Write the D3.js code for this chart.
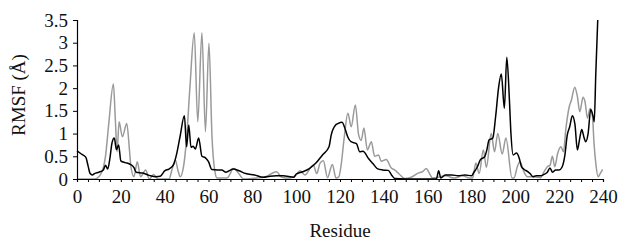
<!DOCTYPE html>
<html><head><meta charset="utf-8">
<script src="https://cdn.jsdelivr.net/npm/d3@7"></script>
<style>
html,body{margin:0;padding:0;background:#fff;}
svg text{font-family:"Liberation Serif","Times New Roman",serif;fill:#111;}
</style></head>
<body><svg id="c" width="618" height="240"></svg>
<script>
const yTicks = [0, 0.5, 1, 1.5, 2, 2.5, 3, 3.5];
const xTicks = [0, 20, 40, 60, 80, 100, 120, 140, 160, 180, 200, 220, 240];
const xLabel = "Residue";
const yLabel = "RMSF (Å)";

const blackResidue = [0,2,4,5,6,7,8,10,12,13,14,15,16,17,18,19,20,22,24,26,27,30,33,36,38,40,42,44,45.5,47,49,50,51,52,53,54,55.5,57,58.5,60,61.5,64,66,68,69,71.3,74,77,81,85,88,91,94,99,100,103,106,109,112,115,116,118,119,121,122,123.5,125,127.5,129,130.5,133,135,137,139.5,142,143.5,145,150,155,160,164,165,166,168,171,174,177,180,181,182.7,184,186,187,188,189.7,191,192.4,193.6,195,196.1,197.3,198,199,200.5,201.7,202.8,204,205.5,206.7,208,209.5,211.5,213,214.6,215.8,217,218.4,220,221.4,222.5,223.7,224.8,226,227.2,228.3,229.4,230.3,231.4,232.1,233.2,234.4,235.6,236,236.7,237.6];
const blackRmsf = [0.62,0.55,0.48,0.3,0.12,0.09,0.12,0.15,0.2,0.3,0.22,0.45,0.8,0.9,0.65,0.75,0.4,0.36,0.33,0.25,0.15,0.13,0.08,0.05,0.06,0.18,0.22,0.31,0.56,0.93,1.39,0.71,1.19,0.7,0.72,0.66,0.9,0.5,0.47,0.38,0.21,0.2,0.2,0.15,0.17,0.22,0.18,0.12,0.09,0.04,0.06,0.07,0.07,0.04,0.11,0.16,0.23,0.35,0.53,0.71,0.97,1.19,1.22,1.25,1.15,0.93,0.82,0.78,0.6,0.61,0.45,0.34,0.23,0.2,0.19,0.09,0.01,0,0,0,0,0.18,0.02,0.09,0.09,0.07,0.09,0.07,0.14,0.27,0.42,0.49,0.64,0.86,0.9,1.37,2.03,2.31,1.56,2.68,1.74,1.0,0.53,0.57,0.47,0.27,0.21,0.17,0.12,0.05,0.07,0.07,0.1,0.15,0.24,0.15,0.2,0.2,0.27,0.49,0.97,1.15,1.39,1.2,0.64,0.9,1.09,0.9,0.82,1.0,1.53,1.35,1.26,2.3,3.5];

const greyResidue = [0,8,10,11,12,13,14.5,16.6,17.5,18.3,19.2,20.7,22.7,24,24.6,26,27.5,29,31.3,33,35,37,42,43.3,44.9,46,47.1,48.6,50,51.5,53.5,55.1,57,58.6,60.2,61.6,62.8,63.9,68.4,71.5,73.8,76,82,86,91,93.4,97,100,101.7,104,106.3,107.8,109.4,110.9,112.4,114.3,116.5,118.2,119.5,120.5,121.8,123.6,125.1,127,128.5,129.7,130.9,132.5,134.3,135.8,137.6,138.8,141.1,143.4,144.9,147.2,149.5,152.5,155.6,157.9,159.4,160.5,162.3,168.3,172,176,179,180.5,182,183.5,185.4,186.8,189,190.5,192,194,195.7,198.5,199.4,200.9,202.1,204,205.5,208.5,211.5,213,214.6,215.8,216.9,218,219.3,220.8,222,223,224.6,225.6,227.1,228.3,229.4,230.9,231.8,232.9,234.1,235.2,235.9,236.7,237.8,238.7,239.8];
const greyRmsf = [0,0,0.05,0.12,0.25,0.5,1.22,2.09,1.3,0.6,1.26,0.93,1.22,0.6,0.27,0.05,0.38,0.05,0.2,0,0.1,0,0,0.2,0.42,0.2,0.05,0.27,0.9,2.0,3.22,1.26,3.22,1.04,2.99,0.93,0.2,0.02,0.02,0.23,0.12,0,0.02,0.05,0.16,0.04,0.02,0.09,0.18,0.09,0.23,0.31,0.12,0.35,0.4,0.03,0.32,0.02,0.05,0.3,0.86,1.45,1.15,1.63,0.97,0.85,1.12,0.64,0.82,0.5,0.53,0.39,0.43,0.24,0.2,0.1,0.01,0.04,0.13,0.17,0.23,0.15,0.02,0.07,0.02,0.07,0.02,0.02,0.35,0.12,0.64,0.26,1.0,0.6,1.0,0.55,0.9,0.02,0.02,0.27,0.38,0.15,0.05,0.05,0.03,0.15,0.27,0.3,0.5,0.27,0.56,0.71,0.6,1.08,1.59,1.74,2.02,1.82,1.48,1.8,1.7,1.34,1.55,1.38,0.79,0.35,0.05,0.12,0.21];

const svg = d3.select("#c");
const x = d3.scaleLinear().domain([0, 240]).range([77, 603]);
const y = d3.scaleLinear().domain([0, 3.5]).range([179, 20]);

const line = d3.line().x(d => x(d[0])).y(d => y(d[1])).curve(d3.curveMonotoneX);
const grey = greyResidue.map((r, i) => [r, greyRmsf[i]]);
const black = blackResidue.map((r, i) => [r, blackRmsf[i]]);

svg.append("path").attr("d", line(grey)).attr("fill", "none").attr("stroke", "#9a9a9a").attr("stroke-width", 1.5);
svg.append("path").attr("d", line(black)).attr("fill", "none").attr("stroke", "#000").attr("stroke-width", 1.5);

const yAxis = svg.append("g").attr("transform", "translate(77,0)")
  .call(d3.axisLeft(y).tickValues(yTicks).tickSize(4).tickPadding(5).tickFormat(d => String(d)));
const xAxis = svg.append("g").attr("transform", "translate(0,179)")
  .call(d3.axisBottom(x).tickValues(d3.range(0, 241, 5)).tickSize(3).tickPadding(8)
    .tickFormat(d => xTicks.includes(d) ? String(d) : ""));
[yAxis, xAxis].forEach(g => {
  g.select(".domain").attr("stroke", "#000").attr("stroke-width", 1.2);
  g.selectAll(".tick line").attr("stroke", "#000").attr("stroke-width", 1);
  g.selectAll("text").attr("font-size", 19).attr("font-family", "Liberation Serif").attr("fill", "#111");
});

svg.append("text").attr("x", 340).attr("y", 237).attr("text-anchor", "middle")
  .attr("font-size", 19).text(xLabel);
svg.append("text").attr("transform", "translate(25,95) rotate(-90)").attr("text-anchor", "middle")
  .attr("font-size", 19).text(yLabel);
</script></body></html>
